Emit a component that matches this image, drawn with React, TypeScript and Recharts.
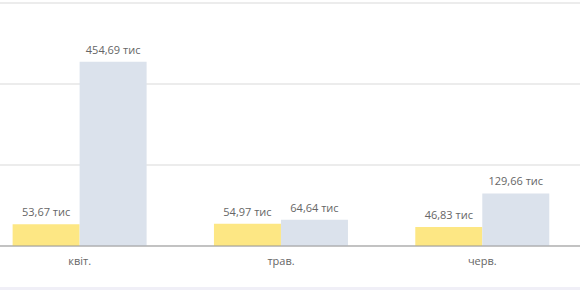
import {BarChart, Bar, XAxis, YAxis, CartesianGrid, LabelList} from 'recharts';

// місяці та суми (тис.)
const months = ['квіт.', 'трав.', 'черв.'];
const current = [53.67, 54.97, 46.83];
const previous = [454.69, 64.64, 129.66];
const yTicks = [0, 200, 400, 600];

const data = months.map((m, i) => ({name: m, current: current[i], previous: previous[i]}));

const fmt = (v: any) => `${Number(v).toFixed(2).replace('.', ',')} тис`;

const font = '"Open Sans", sans-serif';

// підпис над стовпцем без переносу рядка
const ValueLabel = (props: any) => {
  const {x, y, width, value} = props;
  return (
    <text x={x + width / 2} y={y - 8} textAnchor="middle" fill="#666" fontSize={11} fontFamily={font}>
      {fmt(value)}
    </text>
  );
};

const App = () => {
  return (
    <div style={{position: 'absolute', left: 0, top: 0, width: 580, height: 290, overflow: 'hidden', background: '#fff'}}>
      <BarChart
        width={604}
        height={290}
        data={data}
        margin={{top: 3, right: 0, bottom: 14, left: 0}}
        barGap={0}
        barCategoryGap="16.7%"
        style={{position: 'absolute', left: -21, top: 0}}
      >
        <CartesianGrid vertical={false} stroke="#d9d9d9" x={0} width={604}/>
        <YAxis hide domain={[0, 600]} ticks={yTicks}/>
        <XAxis
          dataKey="name"
          height={30}
          tickLine={false}
          tickSize={0}
          tickMargin={11}
          axisLine={{stroke: '#999'}}
          tick={{fill: '#666', fontSize: 11, fontFamily: font}}
        />
        <Bar dataKey="current" fill="#fde784" isAnimationActive={false}>
          <LabelList dataKey="current" content={ValueLabel}/>
        </Bar>
        <Bar dataKey="previous" fill="#dbe2ec" isAnimationActive={false}>
          <LabelList dataKey="previous" content={ValueLabel}/>
        </Bar>
      </BarChart>
      {/* нижня смуга */}
      <div style={{position: 'absolute', left: 0, right: 0, top: 287, height: 3, background: '#f0eff7'}}/>
    </div>
  );
};

export default App;
